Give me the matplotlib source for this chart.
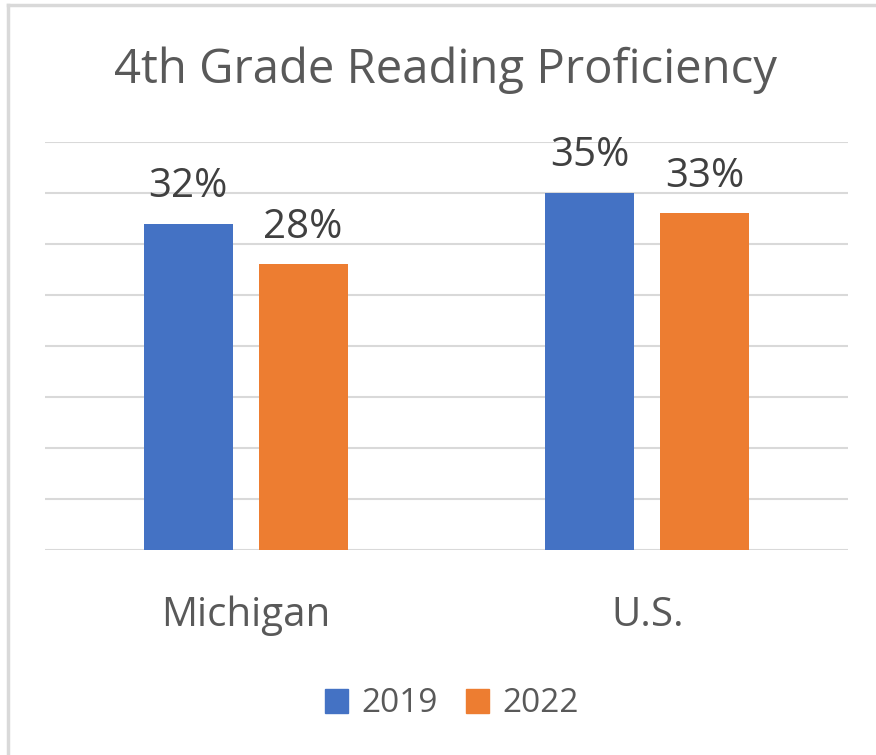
import matplotlib
matplotlib.use("Agg")
import matplotlib.pyplot as plt
from matplotlib.lines import Line2D
from matplotlib.patches import Patch
import numpy as np

categories = ["Michigan", "U.S."]
years = ["2019", "2022"]
values_2019 = [32, 35]
values_2022 = [28, 33]
colors = ["#4472C4", "#ED7D31"]

plt.rcParams["font.family"] = ["Open Sans", "DejaVu Sans"]

fig = plt.figure(figsize=(8.76, 7.55), dpi=100)
ax = fig.add_axes([45/876, 205/755, 803/876, 408/755])

x = np.arange(len(categories))
w = 0.222
off = 0.143
b1 = ax.bar(x - off, values_2019, w, color=colors[0], label=years[0], zorder=3)
b2 = ax.bar(x + off, values_2022, w, color=colors[1], label=years[1], zorder=3)

for bars, vals in ((b1, values_2019), (b2, values_2022)):
    for rect, v in zip(bars, vals):
        ax.annotate(f"{v}%", (rect.get_x() + rect.get_width()/2, rect.get_height()),
                    xytext=(0, 12), textcoords="offset points", ha="center", va="bottom",
                    fontsize=29, color="#404040")

ax.set_xlim(-0.5, 1.5)
ax.set_ylim(0, 40)
ax.set_yticks(np.arange(0, 41, 5))
ax.yaxis.grid(True, color="#D9D9D9", linewidth=1.5, zorder=0)
ax.tick_params(axis="y", length=0, labelleft=False)
ax.set_xticks(x)
ax.set_xticklabels(categories, fontsize=29, color="#595959")
ax.tick_params(axis="x", length=0, pad=33)
for s in ax.spines.values():
    s.set_visible(False)

fig.text(445/876, 1 - 70/755, "4th Grade Reading Proficiency", ha="center", va="center",
         fontsize=34, color="#595959")

handles = [Patch(color=colors[0]), Patch(color=colors[1])]
fig.legend(handles, years, loc="center", bbox_to_anchor=(452/876, 1 - 704/755), ncol=2,
           frameon=False, fontsize=24, handlelength=0.7, handleheight=0.7,
           handletextpad=0.4, columnspacing=0.85, labelcolor="#595959")

fig.add_artist(Line2D([8/876, 8/876], [0, 1 - 5/755], color="#D9D9D9", linewidth=2.5,
                      transform=fig.transFigure))
fig.add_artist(Line2D([8/876, 1], [1 - 5/755, 1 - 5/755], color="#D9D9D9", linewidth=2.5,
                      transform=fig.transFigure))

fig.savefig("out.png", dpi=100)
